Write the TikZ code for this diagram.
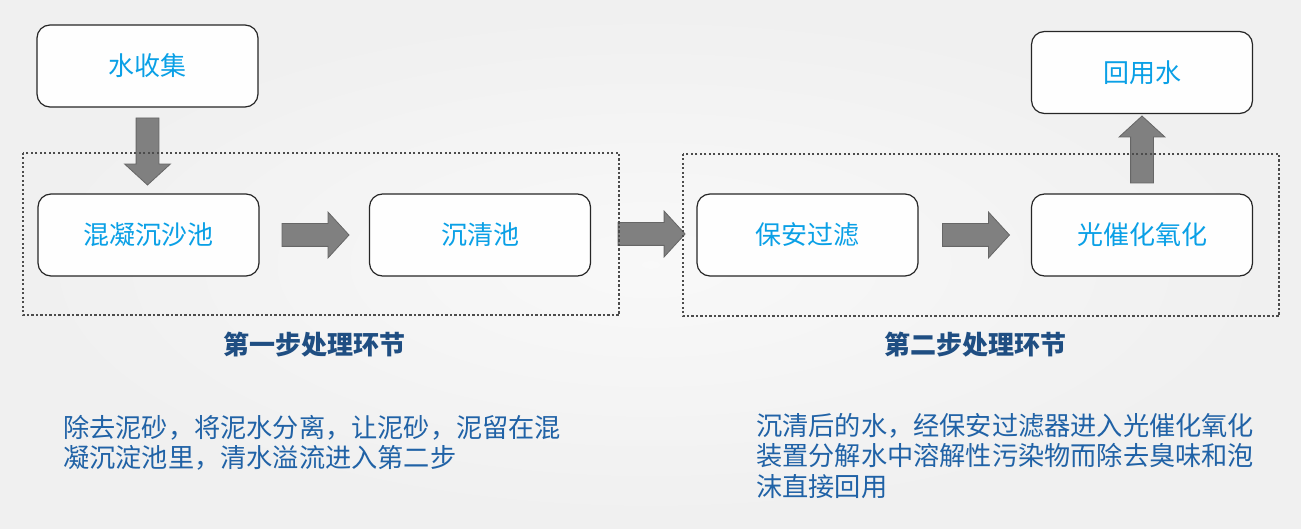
\documentclass[tikz,border=0pt]{standalone}
\usepackage{fontspec}
\setmainfont{Noto Sans CJK SC}
\usepackage{xcolor}
\usetikzlibrary{positioning, shapes.arrows, calc}

\definecolor{boxtext}{HTML}{0AA0E6}
\definecolor{titletext}{HTML}{1F4E82}
\definecolor{paratext}{HTML}{2062A6}
\definecolor{arrowfill}{HTML}{808080}
\definecolor{arrowline}{HTML}{666666}

\tikzset{
    stepbox/.style={draw=black!85, line width=1.2pt, rounded corners=13pt, fill=white!60!gray!2,
        minimum width=221pt, minimum height=82pt, inner sep=0pt,
        text=boxtext, font=\fontsize{26}{30}\selectfont},
    groupbox/.style={minimum width=596pt, minimum height=162pt, inner sep=0pt},
    groupline/.style={draw=black!70, line width=2pt, dash pattern=on 2.2pt off 2.3pt},
    flowarrow/.style={single arrow, draw=arrowline, fill=arrowfill, line width=0.8pt,
        minimum height=67pt, inner sep=11pt, anchor=tail,
        single arrow head extend=11.5pt, single arrow tip angle=95},
    grouptitle/.style={text=titletext, font=\bfseries\fontsize{26}{30}\selectfont, inner sep=0pt},
    note/.style={text=paratext, font=\fontsize{26.2}{30.5}\selectfont, align=left, inner sep=0pt}
}

\begin{document}
\begin{tikzpicture}[x=1pt, y=-1pt]
    % background
    \useasboundingbox (0,0) rectangle (1301,529);
    \shade[inner color=white!95!gray, outer color=black!6] (0,0) rectangle (1301,529);

    % dotted groups (frames drawn last)
    \node[groupbox] (grpone) at (321,234) {};
    \node[groupbox] (grptwo) at (981,235) {};

    % step boxes
    \node[stepbox] (collect) at (147.5,66) {水收集};
    \node[stepbox] (mixpool) at (148.5,235) {混凝沉沙池};
    \node[stepbox] (clearpool) at (480,235) {沉清池};
    \node[stepbox] (guard) at (807.5,235) {保安过滤};
    \node[stepbox] (photo) at (1142,235) {光催化氧化};
    \node[stepbox] (reuse) at (1142,72.5) {回用水};

    % block arrows
    \node[flowarrow, shape border rotate=270] (arrdown) at ($(collect.south)+(0,10)$) {};
    \node[flowarrow] (arrone) at ($(mixpool.east)+(22,0)$) {};
    \node[flowarrow] (arrtwo) at ($(grpone.east)+(-1.5,0)$) {};
    \node[flowarrow] (arrthree) at ($(guard.east)+(23.5,0)$) {};
    \node[flowarrow, shape border rotate=90] (arrup) at ($(photo.north)+(0,-10)$) {};

    \draw[groupline] (grpone.north west) rectangle (grpone.south east);
    \draw[groupline] (grptwo.north west) rectangle (grptwo.south east);

    % titles
    \node[grouptitle] (titleone) at (314,345) {第一步处理环节};
    \node[grouptitle] (titletwo) at (975,345) {第二步处理环节};

    % notes
    \node[note, anchor=north west] (noteone) at (63,415)
        {除去泥砂，将泥水分离，让泥砂，泥留在混\\凝沉淀池里，清水溢流进入第二步};
    \node[note, anchor=north west] (notetwo) at (756,413)
        {沉清后的水，经保安过滤器进入光催化氧化\\装置分解水中溶解性污染物而除去臭味和泡\\沫直接回用};
\end{tikzpicture}
\end{document}
